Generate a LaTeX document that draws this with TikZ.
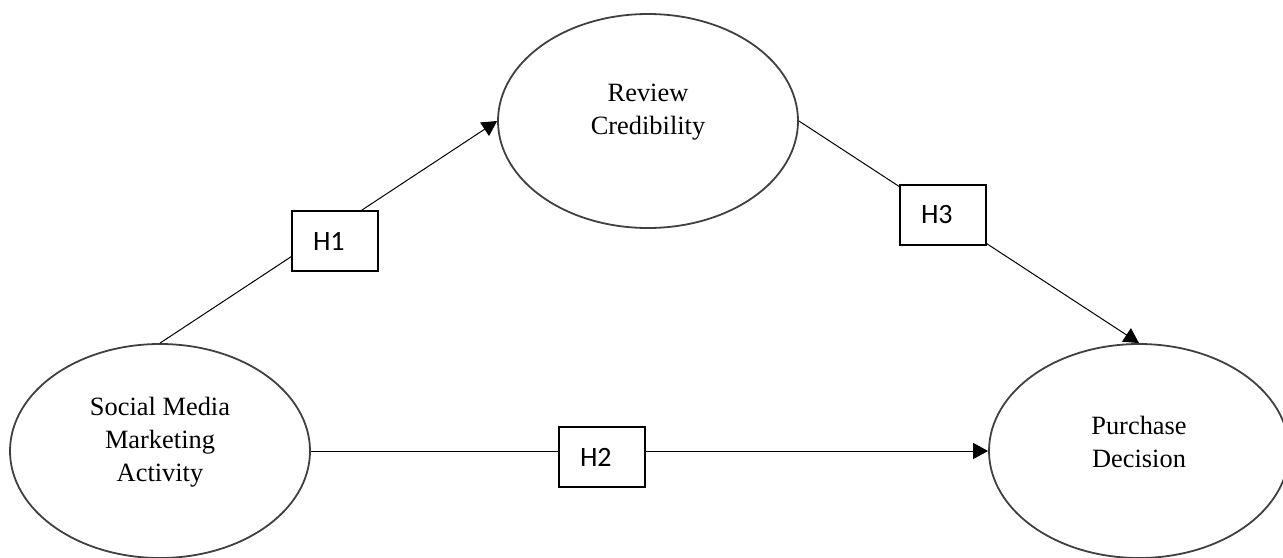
\documentclass[tikz,border=0pt]{standalone}
\usepackage{fontspec}
\setmainfont{Liberation Serif}
\newfontfamily\hypfont{Carlito}
\usetikzlibrary{positioning,arrows.meta,shapes.geometric}
\definecolor{EllGray}{RGB}{64,64,64}

\begin{document}
\begin{tikzpicture}[
x=0.5pt,y=-0.5pt,
construct/.style={ellipse,draw=EllGray,line width=0.9pt,minimum width=150pt,minimum height=107pt,inner sep=0pt},
ctext/.style={font=\fontsize{13.2}{16.5}\selectfont,align=center,yshift=4.5pt},
hyp/.style={rectangle,draw=black,line width=0.75pt,fill=white,minimum width=43pt,minimum height=30pt,
  inner xsep=10.5pt,inner ysep=0pt,text width=22pt,align=left,font=\hypfont\fontsize{14}{16}\selectfont},
arrow/.style={-{Triangle[length=7.5pt,width=8pt]},line width=0.5pt,draw=black}
]
\useasboundingbox (0,0) rectangle (1283,557);
\node[construct,label={[ctext]center:Social Media\\Marketing\\Activity}] (smma) at (160,451) {};
\node[construct,label={[ctext]center:Review\\Credibility}] (rc) at (648,121) {};
\node[construct,label={[ctext]center:Purchase\\Decision}] (pd) at (1139,451) {};
\draw[arrow] (smma.north) -- (rc.west);
\draw[arrow] (smma.east) -- (pd.west);
\draw[arrow] (rc.east) -- (pd.north);
\node[hyp] (h1) at (335,241) {H1};
\node[hyp] (h2) at (602,457) {H2};
\node[hyp] (h3) at (943,215) {H3};
\end{tikzpicture}
\end{document}
